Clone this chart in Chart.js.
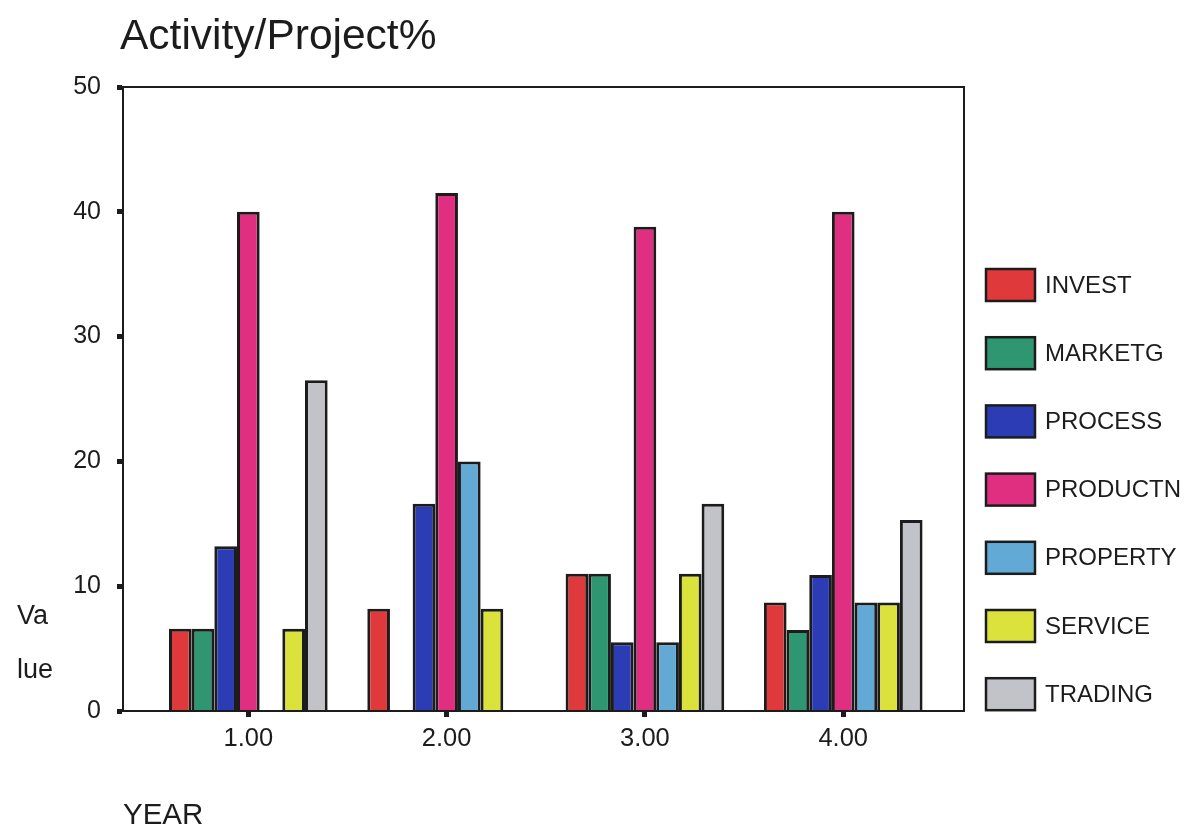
<!DOCTYPE html>
<html>
<head>
<meta charset="utf-8">
<script src="https://cdn.jsdelivr.net/npm/chart.js@4.4.1/dist/chart.umd.min.js"></script>
<style>
  html, body { margin: 0; padding: 0; background: #fff; }
</style>
</head>
<body>
<canvas id="myChart" width="1189" height="830"></canvas>
<script>
const years = [1, 2, 3, 4];
const seriesNames = ['INVEST', 'MARKETG', 'PROCESS', 'PRODUCTN', 'PROPERTY', 'SERVICE', 'TRADING'];
const investVals = [6.6, 8.2, 11.0, 8.7];
const marketgVals = [6.6, 0, 11.0, 6.5];
const processVals = [13.2, 16.6, 5.5, 10.9];
const productnVals = [40.0, 41.5, 38.8, 40.0];
const propertyVals = [0, 20.0, 5.5, 8.7];
const serviceVals = [6.6, 8.2, 11.0, 8.7];
const tradingVals = [26.5, 0, 16.6, 15.3];
const colors = ['#e0393c', '#2f9672', '#2b3cb5', '#e02f80', '#62a9d6', '#dce23c', '#c2c3c8'];

const FONT = "'Liberation Sans', Arial, sans-serif";
const INK = '#1c1c1c';

const allVals = [investVals, marketgVals, processVals, productnVals, propertyVals, serviceVals, tradingVals];

const datasets = seriesNames.map((name, i) => ({
  label: name,
  data: years.map((x, j) => ({ x: x, y: allVals[i][j] })),
  backgroundColor: colors[i],
  borderColor: INK,
  borderWidth: 3,
  categoryPercentage: 0.8,
  barPercentage: 1.0
}));

// frame, title, y label text and legend
const extras = {
  id: 'extras',
  afterDraw(chart) {
    const { ctx, chartArea } = chart;
    ctx.save();
    ctx.strokeStyle = INK;
    ctx.lineWidth = 2;
    ctx.strokeRect(chartArea.left, chartArea.top, chartArea.right - chartArea.left, chartArea.bottom - chartArea.top);

    ctx.fillStyle = INK;
    ctx.textAlign = 'left';
    ctx.textBaseline = 'alphabetic';
    ctx.font = '42.5px ' + FONT;
    ctx.fillText('Activity/Project%', 120, 49);

    ctx.textBaseline = 'middle';
    ctx.font = '27px ' + FONT;
    ctx.fillText('Va', 17, 617);
    ctx.fillText('lue', 17, 671);

    // legend
    ctx.font = '24px ' + FONT;
    chart.data.datasets.forEach((ds, i) => {
      const cy = chartArea.top + 198 + i * 68.2;
      ctx.fillStyle = ds.backgroundColor;
      ctx.fillRect(986, cy - 16, 49, 32);
      ctx.strokeStyle = INK;
      ctx.lineWidth = 2.5;
      ctx.strokeRect(986, cy - 16, 49, 32);
      ctx.fillStyle = INK;
      ctx.fillText(ds.label, 1045, cy + 1);
    });
    ctx.restore();
  }
};

const ctx = document.querySelector('#myChart');
new Chart(ctx, {
  type: 'bar',
  data: { datasets: datasets },
  options: {
    responsive: false,
    animation: false,
    layout: {
      padding: { top: 87, right: 225, bottom: 0, left: 0 }
    },
    scales: {
      x: {
        type: 'linear',
        min: 0.368,
        max: 4.609,
        offset: false,
        afterBuildTicks: scale => { scale.ticks = years.map(v => ({ value: v })); },
        afterFit: scale => { scale.height = 119; },
        ticks: {
          autoSkip: false,
          maxRotation: 0,
          padding: 7,
          color: INK,
          font: { family: FONT, size: 25.5 },
          callback: v => Number(v).toFixed(2)
        },
        grid: {
          offset: false,
          drawOnChartArea: false,
          drawTicks: true,
          tickLength: 6,
          tickWidth: 5,
          tickColor: INK
        },
        border: { color: INK, width: 2 },
        title: {
          display: true,
          text: 'YEAR',
          align: 'start',
          color: INK,
          font: { family: FONT, size: 29.5 },
          padding: { top: 0, bottom: -4 }
        }
      },
      y: {
        min: 0,
        max: 50,
        afterFit: scale => { scale.width = 123; },
        ticks: {
          stepSize: 10,
          padding: 16,
          color: INK,
          font: { family: FONT, size: 25 }
        },
        grid: {
          drawOnChartArea: false,
          drawTicks: true,
          tickLength: 6,
          tickWidth: 5,
          tickColor: INK
        },
        border: { color: INK, width: 2 }
      }
    },
    plugins: {
      legend: { display: false },
      tooltip: { enabled: false }
    }
  },
  plugins: [extras]
});
</script>
</body>
</html>
